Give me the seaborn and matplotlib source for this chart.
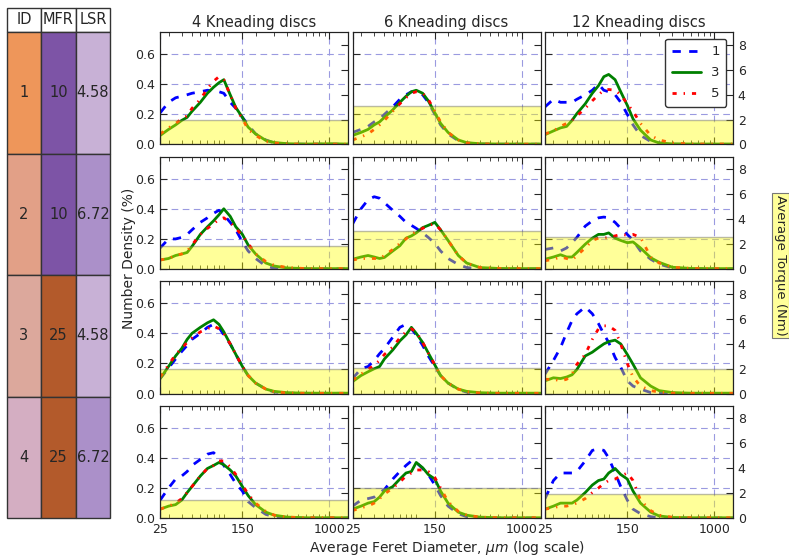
import pandas as pd
import seaborn as sns
import matplotlib.pyplot as plt
from matplotlib.patches import Rectangle
from matplotlib.ticker import LogLocator, NullFormatter, FixedLocator, FixedFormatter

# shared diameter grid (um)
diam = [25, 30, 35, 40, 45, 50, 60, 70, 80, 90, 100, 115, 130, 150, 170, 200, 250, 300, 400, 600, 1000, 1500]

# ---- 4 kneading discs ----
k4_id1_run1 = [0.21, 0.28, 0.31, 0.32, 0.33, 0.34, 0.35, 0.36, 0.355, 0.35, 0.34, 0.28, 0.24, 0.18, 0.13, 0.07, 0.03, 0.01, 0.003, 0.002, 0.002, 0.002]
k4_id1_run3 = [0.06, 0.10, 0.13, 0.16, 0.18, 0.22, 0.28, 0.34, 0.38, 0.41, 0.43, 0.33, 0.245, 0.18, 0.115, 0.07, 0.027, 0.013, 0.005, 0.003, 0.005, 0.003]
k4_id1_run5 = [0.07, 0.11, 0.14, 0.17, 0.19, 0.24, 0.30, 0.37, 0.42, 0.45, 0.43, 0.33, 0.24, 0.17, 0.10, 0.06, 0.02, 0.01, 0.003, 0.002, 0.002, 0.002]

k4_id2_run1 = [0.14, 0.20, 0.20, 0.21, 0.23, 0.26, 0.31, 0.34, 0.37, 0.39, 0.36, 0.31, 0.26, 0.18, 0.12, 0.07, 0.02, 0.005, 0.002, 0.001, 0.001, 0.001]
k4_id2_run3 = [0.06, 0.07, 0.09, 0.10, 0.11, 0.15, 0.23, 0.28, 0.32, 0.36, 0.40, 0.35, 0.28, 0.23, 0.16, 0.10, 0.04, 0.02, 0.007, 0.003, 0.003, 0.003]
k4_id2_run5 = [0.06, 0.07, 0.09, 0.10, 0.12, 0.16, 0.23, 0.27, 0.30, 0.33, 0.34, 0.31, 0.27, 0.22, 0.17, 0.10, 0.05, 0.025, 0.01, 0.003, 0.003, 0.003]

k4_id3_run1 = [0.10, 0.17, 0.23, 0.28, 0.32, 0.36, 0.40, 0.44, 0.46, 0.44, 0.39, 0.33, 0.26, 0.18, 0.12, 0.07, 0.03, 0.01, 0.003, 0.002, 0.002, 0.002]
k4_id3_run3 = [0.10, 0.18, 0.25, 0.30, 0.36, 0.40, 0.44, 0.47, 0.49, 0.46, 0.41, 0.33, 0.26, 0.18, 0.12, 0.07, 0.03, 0.015, 0.006, 0.003, 0.003, 0.003]
k4_id3_run5 = [0.11, 0.19, 0.26, 0.30, 0.34, 0.37, 0.41, 0.43, 0.45, 0.43, 0.40, 0.33, 0.26, 0.18, 0.12, 0.07, 0.03, 0.012, 0.004, 0.002, 0.002, 0.002]

k4_id4_run1 = [0.12, 0.20, 0.26, 0.28, 0.31, 0.35, 0.39, 0.425, 0.435, 0.40, 0.35, 0.29, 0.23, 0.18, 0.11, 0.07, 0.025, 0.01, 0.002, 0.001, 0.001, 0.001]
k4_id4_run3 = [0.06, 0.08, 0.09, 0.12, 0.17, 0.21, 0.28, 0.33, 0.35, 0.37, 0.355, 0.32, 0.28, 0.21, 0.15, 0.09, 0.04, 0.02, 0.007, 0.003, 0.003, 0.003]
k4_id4_run5 = [0.06, 0.08, 0.10, 0.13, 0.17, 0.21, 0.28, 0.33, 0.35, 0.38, 0.38, 0.34, 0.29, 0.22, 0.16, 0.10, 0.045, 0.02, 0.007, 0.003, 0.003, 0.003]

# ---- 6 kneading discs ----
k6_id1_run1 = [0.08, 0.10, 0.12, 0.15, 0.17, 0.20, 0.25, 0.30, 0.33, 0.35, 0.35, 0.33, 0.28, 0.20, 0.13, 0.07, 0.025, 0.01, 0.003, 0.002, 0.002, 0.002]
k6_id1_run3 = [0.06, 0.08, 0.10, 0.13, 0.15, 0.18, 0.23, 0.28, 0.32, 0.35, 0.36, 0.34, 0.29, 0.21, 0.14, 0.08, 0.03, 0.012, 0.005, 0.003, 0.003, 0.003]
k6_id1_run5 = [0.03, 0.05, 0.07, 0.10, 0.13, 0.16, 0.22, 0.27, 0.31, 0.34, 0.35, 0.34, 0.30, 0.22, 0.15, 0.08, 0.03, 0.01, 0.004, 0.002, 0.002, 0.002]

k6_id2_run1 = [0.30, 0.40, 0.46, 0.48, 0.47, 0.44, 0.39, 0.35, 0.31, 0.29, 0.27, 0.24, 0.21, 0.17, 0.12, 0.07, 0.03, 0.01, 0.002, 0.001, 0.001, 0.001]
k6_id2_run3 = [0.065, 0.08, 0.09, 0.08, 0.07, 0.077, 0.12, 0.155, 0.205, 0.22, 0.24, 0.275, 0.29, 0.31, 0.26, 0.19, 0.09, 0.04, 0.01, 0.004, 0.003, 0.003]
k6_id2_run5 = [0.06, 0.07, 0.07, 0.07, 0.07, 0.09, 0.13, 0.17, 0.20, 0.23, 0.25, 0.27, 0.29, 0.30, 0.26, 0.19, 0.09, 0.04, 0.01, 0.004, 0.003, 0.003]

k6_id3_run1 = [0.10, 0.165, 0.18, 0.22, 0.265, 0.30, 0.375, 0.44, 0.46, 0.43, 0.39, 0.32, 0.25, 0.18, 0.12, 0.07, 0.027, 0.01, 0.002, 0.001, 0.001, 0.001]
k6_id3_run3 = [0.08, 0.12, 0.145, 0.165, 0.18, 0.23, 0.29, 0.35, 0.39, 0.44, 0.40, 0.34, 0.27, 0.19, 0.12, 0.07, 0.03, 0.015, 0.006, 0.003, 0.003, 0.003]
k6_id3_run5 = [0.09, 0.13, 0.16, 0.19, 0.22, 0.26, 0.31, 0.37, 0.41, 0.43, 0.41, 0.34, 0.27, 0.19, 0.12, 0.07, 0.03, 0.012, 0.004, 0.002, 0.002, 0.002]

k6_id4_run1 = [0.08, 0.12, 0.13, 0.14, 0.17, 0.19, 0.26, 0.31, 0.35, 0.38, 0.37, 0.33, 0.29, 0.22, 0.15, 0.08, 0.03, 0.01, 0.002, 0.001, 0.001, 0.001]
k6_id4_run3 = [0.06, 0.08, 0.10, 0.11, 0.14, 0.18, 0.21, 0.26, 0.30, 0.31, 0.37, 0.335, 0.29, 0.26, 0.18, 0.10, 0.04, 0.02, 0.007, 0.003, 0.003, 0.003]
k6_id4_run5 = [0.05, 0.07, 0.08, 0.10, 0.13, 0.16, 0.20, 0.24, 0.28, 0.30, 0.32, 0.32, 0.31, 0.27, 0.20, 0.11, 0.045, 0.02, 0.007, 0.003, 0.003, 0.003]

# ---- 12 kneading discs ----
k12_id1_run1 = [0.25, 0.30, 0.28, 0.28, 0.28, 0.30, 0.33, 0.36, 0.40, 0.36, 0.35, 0.33, 0.28, 0.20, 0.13, 0.06, 0.02, 0.01, 0.002, 0.001, 0.001, 0.001]
k12_id1_run3 = [0.065, 0.09, 0.11, 0.12, 0.16, 0.205, 0.27, 0.34, 0.39, 0.45, 0.465, 0.43, 0.35, 0.26, 0.17, 0.095, 0.03, 0.01, 0.004, 0.003, 0.003, 0.003]
k12_id1_run5 = [0.07, 0.09, 0.12, 0.14, 0.16, 0.19, 0.24, 0.29, 0.33, 0.36, 0.365, 0.36, 0.33, 0.27, 0.22, 0.14, 0.06, 0.03, 0.01, 0.003, 0.003, 0.003]

k12_id2_run1 = [0.13, 0.14, 0.12, 0.14, 0.175, 0.21, 0.285, 0.32, 0.34, 0.345, 0.34, 0.31, 0.27, 0.23, 0.19, 0.12, 0.065, 0.033, 0.007, 0.002, 0.001, 0.001]
k12_id2_run3 = [0.065, 0.08, 0.095, 0.08, 0.08, 0.11, 0.165, 0.205, 0.23, 0.23, 0.24, 0.205, 0.19, 0.175, 0.18, 0.14, 0.075, 0.045, 0.012, 0.004, 0.003, 0.003]
k12_id2_run5 = [0.055, 0.065, 0.08, 0.07, 0.06, 0.09, 0.14, 0.19, 0.205, 0.205, 0.21, 0.22, 0.23, 0.225, 0.23, 0.21, 0.08, 0.04, 0.012, 0.004, 0.003, 0.003]

k12_id3_run1 = [0.13, 0.22, 0.305, 0.405, 0.485, 0.53, 0.575, 0.53, 0.465, 0.395, 0.34, 0.24, 0.175, 0.085, 0.05, 0.03, 0.007, 0.003, 0.001, 0.001, 0.001, 0.001]
k12_id3_run3 = [0.085, 0.105, 0.10, 0.11, 0.125, 0.16, 0.25, 0.275, 0.305, 0.33, 0.345, 0.355, 0.33, 0.26, 0.195, 0.105, 0.05, 0.02, 0.007, 0.003, 0.003, 0.003]
k12_id3_run5 = [0.095, 0.095, 0.085, 0.095, 0.13, 0.195, 0.26, 0.36, 0.43, 0.45, 0.45, 0.42, 0.33, 0.20, 0.11, 0.05, 0.02, 0.01, 0.003, 0.002, 0.002, 0.002]

k12_id4_run1 = [0.13, 0.25, 0.30, 0.30, 0.30, 0.31, 0.38, 0.45, 0.46, 0.45, 0.40, 0.30, 0.21, 0.12, 0.06, 0.03, 0.01, 0.003, 0.001, 0.001, 0.001, 0.001]
k12_id4_run3 = [0.06, 0.08, 0.10, 0.10, 0.10, 0.12, 0.17, 0.22, 0.25, 0.26, 0.30, 0.33, 0.29, 0.26, 0.18, 0.10, 0.04, 0.015, 0.005, 0.003, 0.003, 0.003]
k12_id4_run5 = [0.06, 0.07, 0.08, 0.08, 0.09, 0.10, 0.13, 0.17, 0.20, 0.23, 0.25, 0.26, 0.28, 0.30, 0.25, 0.12, 0.05, 0.02, 0.006, 0.003, 0.003, 0.003]

# average torque (Nm) per panel, rows = ID 1..4
torque_k4 = [2.0, 1.87, 2.0, 1.44]
torque_k6 = [3.1, 3.07, 2.08, 2.4]
torque_k12 = [2.0, 2.57, 1.95, 1.9]

kneading = [4, 6, 12]
runs = ["1", "3", "5"]
ids = ["1", "2", "3", "4"]
mfr = ["10", "10", "25", "25"]
lsr = ["4.58", "6.72", "4.58", "6.72"]

panels = {
    4: [(k4_id1_run1, k4_id1_run3, k4_id1_run5), (k4_id2_run1, k4_id2_run3, k4_id2_run5),
        (k4_id3_run1, k4_id3_run3, k4_id3_run5), (k4_id4_run1, k4_id4_run3, k4_id4_run5)],
    6: [(k6_id1_run1, k6_id1_run3, k6_id1_run5), (k6_id2_run1, k6_id2_run3, k6_id2_run5),
        (k6_id3_run1, k6_id3_run3, k6_id3_run5), (k6_id4_run1, k6_id4_run3, k6_id4_run5)],
    12: [(k12_id1_run1, k12_id1_run3, k12_id1_run5), (k12_id2_run1, k12_id2_run3, k12_id2_run5),
         (k12_id3_run1, k12_id3_run3, k12_id3_run5), (k12_id4_run1, k12_id4_run3, k12_id4_run5)],
}
torque = {4: torque_k4, 6: torque_k6, 12: torque_k12}

# colours
run_colors = {"1": (0, 0, 1), "3": (0, 0.5, 0), "5": (1, 0, 0)}
run_dashes = {"1": (3, 3), "3": "", "5": (1.5, 2.5, 0.5, 2.5)}
id_colors = ["#ee965a", "#e2a087", "#dca89c", "#d4aec2"]
mfr_colors = {"10": "#7d54a6", "25": "#b35a2b"}
lsr_colors = {"4.58": "#c8b1d6", "6.72": "#ab90c9"}

sns.set_style("ticks", {"xtick.direction": "in", "ytick.direction": "in",
                        "axes.edgecolor": "#222222"})
plt.rcParams["font.family"] = ["DejaVu Sans"]
plt.rcParams["xtick.labelsize"] = 9
plt.rcParams["ytick.labelsize"] = 9

fig = plt.figure(figsize=(7.89, 5.56), dpi=100)

# ---- left parameter table ----
tab = fig.add_axes([0, 0, 1, 1])
tab.set_xlim(0, 789)
tab.set_ylim(556, 0)
tab.axis("off")
col_x = [7, 41, 76, 110]
row_y = [32, 153.5, 275, 396.5, 518]
for j, h in enumerate(["ID", "MFR", "LSR"]):
    tab.add_patch(Rectangle((col_x[j], 8), col_x[j + 1] - col_x[j], 24,
                            facecolor="white", edgecolor="#333333", lw=1))
    tab.text((col_x[j] + col_x[j + 1]) / 2, 20, h, ha="center", va="center", fontsize=10.5)
for i in range(4):
    cells = [(ids[i], id_colors[i]), (mfr[i], mfr_colors[mfr[i]]), (lsr[i], lsr_colors[lsr[i]])]
    for j, (txt, col) in enumerate(cells):
        tab.add_patch(Rectangle((col_x[j], row_y[i]), col_x[j + 1] - col_x[j], row_y[i + 1] - row_y[i],
                                facecolor=col, edgecolor="#333333", lw=1))
        tab.text((col_x[j] + col_x[j + 1]) / 2, (row_y[i] + row_y[i + 1]) / 2, txt,
                 ha="center", va="center", fontsize=10.5)

# ---- grid of distributions ----
gs = fig.add_gridspec(4, 3, left=0.203, right=0.929, top=0.942, bottom=0.068,
                      wspace=0.024, hspace=0.11)

for c, k in enumerate(kneading):
    for r in range(4):
        ax = fig.add_subplot(gs[r, c])
        rows = []
        for run, vals in zip(runs, panels[k][r]):
            for d, v in zip(diam, vals):
                rows.append({"diam": d, "density": v, "run": run})
        df = pd.DataFrame(rows)
        sns.lineplot(data=df, x="diam", y="density", hue="run", style="run",
                     palette=run_colors, dashes=run_dashes, linewidth=2,
                     legend=False, ax=ax)
        ax.set_xscale("log")
        ax.set_xlim(25, 1500)
        ax.set_ylim(0, 0.745)
        ax.xaxis.set_major_locator(FixedLocator([25, 150, 1000]))
        ax.xaxis.set_major_formatter(FixedFormatter(["25", "150", "1000"]))
        ax.xaxis.set_minor_locator(LogLocator(base=10, subs=range(1, 10)))
        ax.xaxis.set_minor_formatter(NullFormatter())
        ax.set_yticks([0.0, 0.2, 0.4, 0.6])
        ax.grid(True, which="major", color="#9a9ae0", linestyle=(0, (6, 4)), lw=0.8)
        ax.tick_params(which="both", top=True, right=False, direction="in")
        ax.tick_params(which="major", length=5)
        ax.tick_params(which="minor", length=3)
        ax.set_xlabel("")
        ax.set_ylabel("")
        if r < 3:
            ax.tick_params(labelbottom=False)
        if c > 0:
            ax.tick_params(labelleft=False)
        else:
            ax.set_yticklabels(["0.0", "0.2", "0.4", "0.6"])
        if r == 0:
            ax.set_title(f"{k} Kneading discs", fontsize=10.5, pad=4)
        if r == 0 and c == 2:
            ax.legend(ax.get_lines()[:3], runs, loc="upper right", fontsize=9.5,
                      handlelength=2.2, borderpad=0.5, labelspacing=0.6,
                      edgecolor="#333333", framealpha=1)

        ax2 = ax.twinx()
        ax2.set_ylim(0, 9)
        ax2.axhspan(0, torque[k][r], facecolor="yellow", alpha=0.4,
                    edgecolor="#555555", lw=1)
        ax2.set_yticks([0, 2, 4, 6, 8])
        ax2.tick_params(direction="in", length=5)
        if c < 2:
            ax2.tick_params(labelright=False)
        for sp in ax2.spines.values():
            sp.set_color("#222222")

fig.text(0.163, 0.536, "Number Density (%)", rotation=90, ha="center", va="center", fontsize=10)
fig.text(0.566, 0.015, "Average Feret Diameter, $\\mu m$ (log scale)", ha="center", va="center", fontsize=10)
fig.text(0.989, 0.523, "Average Torque (Nm)", rotation=270, ha="center", va="center", fontsize=9.5,
         bbox=dict(boxstyle="square,pad=0.15", facecolor="#ffff99", edgecolor="#777777", lw=0.8))

fig.savefig("out.png", dpi=100)
